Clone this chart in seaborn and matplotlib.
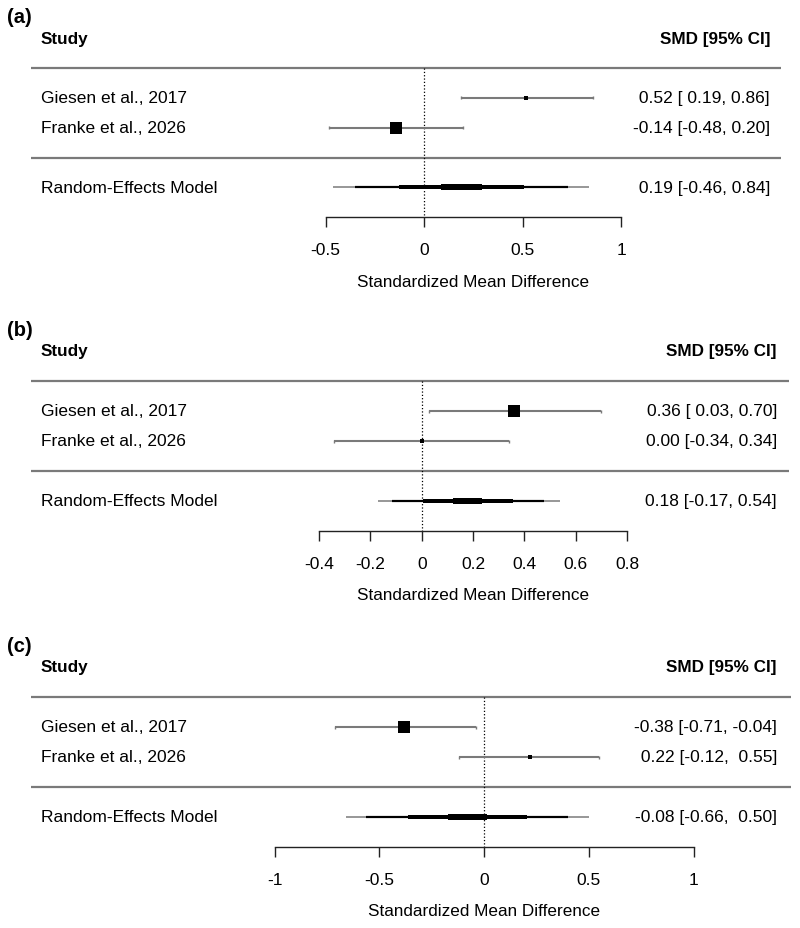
import matplotlib
matplotlib.use("Agg")
import matplotlib.pyplot as plt
import matplotlib.transforms as mtransforms
import seaborn as sns
import pandas as pd
import numpy as np

sns.set_theme(style="white")
plt.rcParams['font.family'] = ['Liberation Sans', 'DejaVu Sans']
plt.rcParams['axes.unicode_minus'] = False
plt.rcParams['text.color'] = 'black'
plt.rcParams['xtick.color'] = 'black'

# ---- data ----
STUDIES = ["Giesen et al., 2017", "Franke et al., 2026"]
PANELS = ["(a)", "(b)", "(c)"]
SMD_EST = [[0.52, -0.14], [0.36, 0.00], [-0.38, 0.22]]
SMD_LO = [[0.19, -0.48], [0.03, -0.34], [-0.71, -0.12]]
SMD_HI = [[0.86, 0.20], [0.70, 0.34], [-0.04, 0.55]]
RE_EST = [0.19, 0.18, -0.08]
RE_LO = [-0.46, -0.17, -0.66]
RE_HI = [0.84, 0.54, 0.50]
# inner bands of the summary bar, as share of the CI half-width
BAND_FRAC = [0.83, 0.49, 0.16]
TICKS = [[-0.5, 0, 0.5, 1],
         [-0.4, -0.2, 0, 0.2, 0.4, 0.6, 0.8],
         [-1, -0.5, 0, 0.5, 1]]
TICK_LABELS = [["-0.5", "0", "0.5", "1"],
               ["-0.4", "-0.2", "0", "0.2", "0.4", "0.6", "0.8"],
               ["-1", "-0.5", "0", "0.5", "1"]]

# ---- styling / layout (pixels on the 800x929 canvas) ----
W, H = 800, 929
PX = 0.72  # points per pixel at dpi 100
SQUARE_PX = [[4, 12], [12, 4], [12, 4]]
BAND_LW_PX = [2.2, 4.0, 6.0]
LAYOUT = [
    dict(sep=158.5, row=29.8, zero=424.0, unit=197.0, line_r=781, text_r=770),
    dict(sep=472.0, row=30.0, zero=421.7, unit=256.7, line_r=789, text_r=777),
    dict(sep=788.0, row=30.0, zero=484.0, unit=209.5, line_r=791, text_r=777),
]
GREY = "#7a7a7a"
FS = 12.5


def fmt_col(vals):
    s = [f"{v:.2f}" for v in vals]
    w = max(len(x) for x in s)
    return [x.rjust(w) for x in s]


fig = plt.figure(figsize=(W / 100, H / 100), dpi=100)

for i, lay in enumerate(LAYOUT):
    y_top, y_bot = 4.9, -2.0
    bottom = 1 - (lay["sep"] - y_bot * lay["row"]) / H
    height = (y_top - y_bot) * lay["row"] / H
    ax = fig.add_axes([0, bottom, 1, height])
    ax.set_facecolor("none")
    ax.set_xlim(-lay["zero"] / lay["unit"], (W - lay["zero"]) / lay["unit"])
    ax.set_ylim(y_bot, y_top)
    tr = mtransforms.blended_transform_factory(ax.transAxes, ax.transData)

    rows = np.array([2, 1])
    df = pd.DataFrame({"study": STUDIES, "est": SMD_EST[i], "lo": SMD_LO[i],
                       "hi": SMD_HI[i], "row": rows,
                       "area": [(p * PX) ** 2 for p in SQUARE_PX[i]]})

    # header and rule lines
    ax.text(7 / W, 4.72, PANELS[i], transform=tr, ha="left", va="center",
            fontsize=14.5, fontweight="bold")
    ax.text(41 / W, 4, "Study", transform=tr, ha="left", va="center",
            fontsize=12.3, fontweight="bold")
    ax.text(lay["text_r"] / W, 4, "SMD [95% CI]", transform=tr, ha="right",
            va="center", fontsize=12.3, fontweight="bold")
    for yl in (3, 0):
        ax.plot([31 / W, lay["line_r"] / W], [yl, yl], transform=tr,
                color=GREY, lw=1.6, solid_capstyle="butt")

    # reference line at zero
    ax.plot([0, 0], [3, -2], color="black", ls=":", lw=0.9)

    # study CIs and squares
    for _, r in df.iterrows():
        ax.plot([r.lo, r.hi], [r.row, r.row], color=GREY, lw=1.5,
                solid_capstyle="butt")
        ax.vlines([r.lo, r.hi], r.row - 0.05, r.row + 0.05, color=GREY, lw=1)
    sns.scatterplot(data=df, x="est", y="row", size="area",
                    sizes={a: a for a in df["area"]}, marker="s",
                    color="black", linewidth=0, legend=False, ax=ax, zorder=3)

    # random-effects summary bar
    c, lo, hi = RE_EST[i], RE_LO[i], RE_HI[i]
    ax.plot([lo, hi], [-1, -1], color=GREY, lw=1.1, solid_capstyle="butt")
    half = (hi - lo) / 2
    for frac, lw in zip(BAND_FRAC, BAND_LW_PX):
        ax.plot([c - frac * half, c + frac * half], [-1, -1], color="black",
                lw=lw * PX, solid_capstyle="butt")

    # right-hand text column
    e_col = fmt_col(SMD_EST[i] + [c])
    l_col = fmt_col(SMD_LO[i] + [lo])
    h_col = fmt_col(SMD_HI[i] + [hi])
    labels = STUDIES + ["Random-Effects Model"]
    for k, y in enumerate([2, 1, -1]):
        ax.text(41 / W, y, labels[k], transform=tr, ha="left", va="center",
                fontsize=FS)
        ax.text(lay["text_r"] / W, y, f"{e_col[k]} [{l_col[k]}, {h_col[k]}]",
                transform=tr, ha="right", va="center", fontsize=FS)

    # x axis
    for side in ("left", "top", "right"):
        ax.spines[side].set_visible(False)
    ax.spines["bottom"].set_bounds(min(TICKS[i]), max(TICKS[i]))
    ax.spines["bottom"].set_color("#222222")
    ax.spines["bottom"].set_linewidth(1.0)
    ax.set_yticks([])
    ax.set_xticks(TICKS[i])
    ax.set_xticklabels(TICK_LABELS[i])
    ax.tick_params(axis="x", bottom=True, direction="out", length=10 * PX,
                   width=1.0, color="#222222", pad=10.5, labelsize=FS)
    ax.set_xlabel("")
    ax.set_ylabel("")
    mid = (min(TICKS[i]) + max(TICKS[i])) / 2
    ax.annotate("Standardized Mean Difference", xy=(mid, -2), xycoords="data",
                xytext=(0, -64 * PX), textcoords="offset points",
                ha="center", va="center", fontsize=12.3)

fig.savefig("out.png", dpi=100)
